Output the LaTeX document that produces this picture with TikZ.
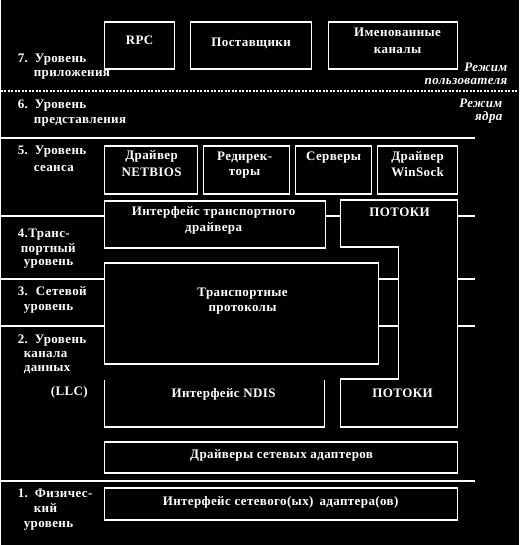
\documentclass[tikz,border=0pt]{standalone}
\usepackage{fontspec}
\setmainfont{Liberation Serif}[LetterSpace=3]
\tikzset{
  sep/.style={white,line width=1.2pt},
  box/.style={draw=white,line width=1.2pt,inner sep=0pt},
  txt/.style={text=white,font=\fontsize{13}{15}\selectfont\bfseries,inner sep=0pt,anchor=base},
  lvl/.style={txt,anchor=base west},
  mode/.style={txt,font=\fontsize{13}{15}\selectfont\bfseries\itshape,anchor=base east}
}
\begin{document}
\begin{tikzpicture}[x=1pt,y=-1pt]
\fill[black] (0,0) rectangle (518,545);
% Level borders
    \draw[sep,dash pattern=on 2pt off 1.5pt] (0,91) -- (518,91);
    \draw[sep] (0,138) -- (474,138);
    \draw[sep] (0,216) -- (104,216) (325,216) -- (340,216) (457,216) -- (474,216);
    \draw[sep] (0,279) -- (104,279) (378,279) -- (398,279) (457,279) -- (474,279);
    \draw[sep] (0,326) -- (104,326) (378,326) -- (398,326) (457,326) -- (474,326);
    \draw[sep] (0,481) -- (474,481);
% Boxes
    \node[box,minimum width=70,minimum height=47] (rpc) at (139,45.5) {};
    \node[box,minimum width=121,minimum height=47] (prov) at (250.5,45.5) {};
    \node[box,minimum width=129,minimum height=47] (pipes) at (392.5,45.5) {};
    \node[box,minimum width=93,minimum height=48] (netbios) at (150.5,170) {};
    \node[box,minimum width=86,minimum height=48] (redir) at (246,170) {};
    \node[box,minimum width=76,minimum height=48] (srv) at (333,170) {};
    \node[box,minimum width=80,minimum height=48] (winsock) at (417,170) {};
    \node[box,minimum width=221,minimum height=47] (tdi) at (214.5,224.5) {};
    \node[box,minimum width=274,minimum height=101] (tproto) at (241,313.5) {};
    \node[box,minimum width=353,minimum height=31] (nicdrv) at (280.5,457.5) {};
    \node[box,minimum width=353,minimum height=32] (nicif) at (280.5,504) {};
    \draw[sep] (104,380) -- (104,427) -- (324,427) -- (324,380);
    \draw[sep] (340,200) -- (457,200) -- (457,427) -- (340,427) -- (340,379)
        -- (398,379) -- (398,247) -- (340,247) -- cycle;
% Texts in boxes
    \node[txt] (rpctxt) at (139,45) {RPC};
    \node[txt] (provtxt) at (250.5,47) {Поставщики};
    \node[txt] (pipestxt) at (397,37) {Именованные};
    \node[txt] (pipestxtb) at (397,54) {каналы};
    \node[txt] (netbiostxt) at (151,160) {Драйвер};
    \node[txt] (netbiostxtb) at (151,177) {NETBIOS};
    \node[txt] (redirtxt) at (244,161) {Редирек-};
    \node[txt] (redirtxtb) at (244,176) {торы};
    \node[txt] (srvtxt) at (333,161) {Серверы};
    \node[txt] (winsocktxt) at (417,161) {Драйвер};
    \node[txt] (winsocktxtb) at (417,177) {WinSock};
    \node[txt] (tditxt) at (213,215) {Интерфейс транспортного};
    \node[txt] (tditxtb) at (213,231) {драйвера};
    \node[txt] (streamstxt) at (399,216) {ПОТОКИ};
    \node[txt] (tprototxt) at (242,296) {Транспортные};
    \node[txt] (tprototxtb) at (242,311) {протоколы};
    \node[txt] (ndistxt) at (223,397) {Интерфейс NDIS};
    \node[txt] (streamstxtb) at (402,397) {ПОТОКИ};
    \node[txt] (nicdrvtxt) at (281,458) {Драйверы сетевых адаптеров};
    \node[txt] (niciftxt) at (280,505) {Интерфейс сетевого(ых)\hspace{6pt}адаптера(ов)};
% Modes
    \node[mode] (usermode) at (507,72) {Режим};
    \node[mode] (usermodeb) at (507,85) {пользователя};
    \node[mode] (kernmode) at (502,108) {Режим};
    \node[mode] (kernmodeb) at (502,121) {ядра};
% Level names
    \node[lvl] (l7) at (17,63) {7.\hspace{7pt}Уровень};
    \node[lvl] (l7b) at (33,77) {приложения};
    \node[lvl] (l6) at (17,109) {6.\hspace{7pt}Уровень};
    \node[lvl] (l6b) at (33,124) {представления};
    \node[lvl] (l5) at (17,155) {5.\hspace{7pt}Уровень};
    \node[lvl] (l5b) at (33,172) {сеанса};
    \node[lvl] (l4) at (17,237) {4.Транс-};
    \node[lvl] (l4b) at (20,252) {портный};
    \node[lvl] (l4c) at (23,265) {уровень};
    \node[lvl] (l3) at (17,295) {3.\hspace{8pt}Сетевой};
    \node[lvl] (l3b) at (23,310) {уровень};
    \node[lvl] (l2) at (17,343) {2.\hspace{7pt}Уровень};
    \node[lvl] (l2b) at (23,357) {канала};
    \node[lvl] (l2c) at (23,371) {данных};
    \node[lvl] (llc) at (50,395) {(LLC)};
    \node[lvl] (l1) at (17,497) {1.\hspace{7pt}Физичес-};
    \node[lvl] (l1b) at (33,512) {кий};
    \node[lvl] (l1c) at (23,527) {уровень};
\end{tikzpicture}
\end{document}
